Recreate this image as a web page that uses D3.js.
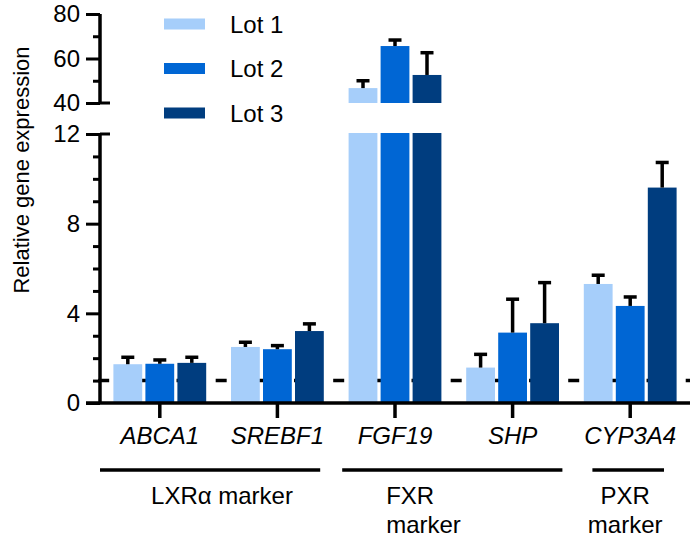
<!DOCTYPE html>
<html><head><meta charset="utf-8">
<script src="https://cdn.jsdelivr.net/npm/d3@7"></script>
<style>
html,body{margin:0;padding:0;background:#fff;}
svg{display:block;font-family:"Liberation Sans",Arial,sans-serif;}
</style></head>
<body>
<svg id="chart" width="690" height="537"></svg>
<script>
const categories = ["ABCA1", "SREBF1", "FGF19", "SHP", "CYP3A4"];
const lots = ["Lot 1", "Lot 2", "Lot 3"];
const lot1Mean = [1.73, 2.50, 46.7, 1.58, 5.31];
const lot1Err  = [0.31, 0.21, 3.3, 0.59, 0.39];
const lot2Mean = [1.75, 2.40, 65.6, 3.14, 4.33];
const lot2Err  = [0.17, 0.16, 2.7, 1.49, 0.40];
const lot3Mean = [1.79, 3.21, 52.6, 3.56, 9.61];
const lot3Err  = [0.25, 0.32, 10.0, 1.81, 1.12];
const lotColors = ["#a6cefa", "#0066d4", "#003d7f"];
const yTicksLow = [0, 4, 8, 12];
const yMinorLow = [1, 2, 3, 5, 6, 7, 9, 10, 11];
const yTicksHigh = [40, 60, 80];
const yMinorHigh = [50, 70];
const baselineValue = 1;
const groupLabels = [["LXRα marker"], ["FXR", "marker"], ["PXR", "marker"]];
const groupFirst = ["ABCA1", "FGF19", "CYP3A4"];
const groupLast = ["SREBF1", "SHP", "CYP3A4"];
const yTitle = "Relative gene expression";

const means = [lot1Mean, lot2Mean, lot3Mean];
const errs = [lot1Err, lot2Err, lot3Err];
const data = [];
categories.forEach((c, i) => lots.forEach((l, j) => data.push({cat: c, lot: l, li: j, v: means[j][i], e: errs[j][i]})));

const svg = d3.select("#chart");
const FONT = 24;
const axisX = 100;

const x0 = d3.scaleBand().domain(categories).range([101, 689]);
const x1 = d3.scaleBand().domain(lots).range([-48, 48]).paddingInner(0.1).paddingOuter(0.05);
const yLow = d3.scaleLinear().domain([0, 12]).range([403, 134]);
const yHigh = d3.scaleLinear().domain([40, 80]).range([103, 14]);

// dashed reference line at 1 (behind bars)
svg.append("line")
  .attr("x1", axisX - 14).attr("x2", 690)
  .attr("y1", yLow(baselineValue)).attr("y2", yLow(baselineValue))
  .attr("stroke", "#000").attr("stroke-width", 3.5)
  .attr("stroke-dasharray", "11,28.17").attr("stroke-dashoffset", 27);

// bars
const gBars = svg.append("g");
data.forEach(d => {
  const xb = x0(d.cat) + x0.bandwidth() / 2 + x1(d.lot);
  const w = x1.bandwidth();
  const lowTop = d.v > 12 ? yLow(12) - 1 : yLow(d.v);
  gBars.append("rect").attr("x", xb).attr("width", w)
    .attr("y", lowTop).attr("height", yLow(0) - lowTop).attr("fill", lotColors[d.li]);
  let yTopVal, yErrTop;
  if (d.v > 12) {
    gBars.append("rect").attr("x", xb).attr("width", w)
      .attr("y", yHigh(d.v)).attr("height", yHigh(40) - yHigh(d.v)).attr("fill", lotColors[d.li]);
    yTopVal = yHigh(d.v); yErrTop = yHigh(d.v + d.e);
  } else {
    yTopVal = yLow(d.v); yErrTop = yLow(d.v + d.e);
  }
  const cx = xb + w / 2;
  gBars.append("line").attr("x1", cx).attr("x2", cx).attr("y1", yTopVal).attr("y2", yErrTop)
    .attr("stroke", "#000").attr("stroke-width", 3.5);
  gBars.append("line").attr("x1", cx - 6.5).attr("x2", cx + 6.5).attr("y1", yErrTop).attr("y2", yErrTop)
    .attr("stroke", "#000").attr("stroke-width", 3.5);
});

// y axes
function styleAxis(g) {
  g.selectAll("path.domain").remove();
  g.selectAll(".tick line").attr("stroke", "#000").attr("stroke-width", 3);
  g.selectAll(".tick text").attr("font-size", FONT).attr("fill", "#000")
    .attr("font-family", "Liberation Sans, Arial, sans-serif");
}
const gyl = svg.append("g").attr("transform", `translate(${axisX},0)`)
  .call(d3.axisLeft(yLow).tickValues(yTicksLow).tickSize(14).tickPadding(6).tickFormat(d3.format("d")));
styleAxis(gyl);
const gylm = svg.append("g").attr("transform", `translate(${axisX},0)`)
  .call(d3.axisLeft(yLow).tickValues(yMinorLow).tickSize(7).tickFormat(""));
styleAxis(gylm);
const gyh = svg.append("g").attr("transform", `translate(${axisX},0)`)
  .call(d3.axisLeft(yHigh).tickValues(yTicksHigh).tickSize(14).tickPadding(6).tickFormat(d3.format("d")));
styleAxis(gyh);
const gyhm = svg.append("g").attr("transform", `translate(${axisX},0)`)
  .call(d3.axisLeft(yHigh).tickValues(yMinorHigh).tickSize(7).tickFormat(""));
styleAxis(gyhm);

// axis spines
svg.append("line").attr("x1", axisX).attr("x2", axisX).attr("y1", yLow(12)).attr("y2", yLow(0))
  .attr("stroke", "#000").attr("stroke-width", 3.5);
svg.append("line").attr("x1", axisX).attr("x2", axisX).attr("y1", yHigh(80)).attr("y2", yHigh(40))
  .attr("stroke", "#000").attr("stroke-width", 3.5);
// break caps
[yLow(12), yHigh(40)].forEach(yy => svg.append("line").attr("x1", axisX).attr("x2", axisX + 10)
  .attr("y1", yy).attr("y2", yy).attr("stroke", "#000").attr("stroke-width", 3));
// x axis line
svg.append("line").attr("x1", axisX - 14).attr("x2", 690).attr("y1", yLow(0)).attr("y2", yLow(0))
  .attr("stroke", "#000").attr("stroke-width", 3.5);

// x axis ticks & labels
const gx = svg.append("g").attr("transform", `translate(0,${yLow(0)})`)
  .call(d3.axisBottom(x0).tickSize(15).tickSizeOuter(0).tickPadding(9));
gx.select("path.domain").remove();
gx.selectAll(".tick line").attr("stroke", "#000").attr("stroke-width", 3.5);
gx.selectAll(".tick text").attr("font-size", FONT).attr("font-style", "italic").attr("fill", "#000")
  .attr("font-family", "Liberation Sans, Arial, sans-serif");

// y title
svg.append("text").attr("transform", `translate(29,170) rotate(-90)`)
  .attr("text-anchor", "middle").attr("font-size", 22).attr("fill", "#000").text(yTitle);

// legend
lots.forEach((l, j) => {
  const yy = 24 + j * 44.5;
  svg.append("rect").attr("x", 164).attr("y", yy - 5.5).attr("width", 41).attr("height", 11).attr("fill", lotColors[j]);
  svg.append("text").attr("x", 230).attr("y", yy).attr("dy", "0.36em").attr("font-size", FONT).attr("fill", "#000").text(l);
});

// group lines and labels
const groupPad = [[-1, -16], [6, -9], [21, -25]];
groupLabels.forEach((lab, i) => {
  const xa = x0(groupFirst[i]) + groupPad[i][0];
  const xb = x0(groupLast[i]) + x0.bandwidth() + groupPad[i][1];
  svg.append("line").attr("x1", xa).attr("x2", xb).attr("y1", 470).attr("y2", 470)
    .attr("stroke", "#000").attr("stroke-width", 3.5);
  const t = svg.append("text").attr("font-size", 24).attr("fill", "#000");
  if (i === 1) {
    t.attr("text-anchor", "start");
    lab.forEach((s, k) => t.append("tspan").attr("x", xa + 44).attr("y", 504 + k * 29).text(s));
  } else {
    t.attr("text-anchor", "middle");
    const cx = i === 0 ? 222 : (xa + xb) / 2 - 3;
    lab.forEach((s, k) => t.append("tspan").attr("x", cx).attr("y", 504 + k * 29).text(s));
  }
});
</script>
</body></html>
